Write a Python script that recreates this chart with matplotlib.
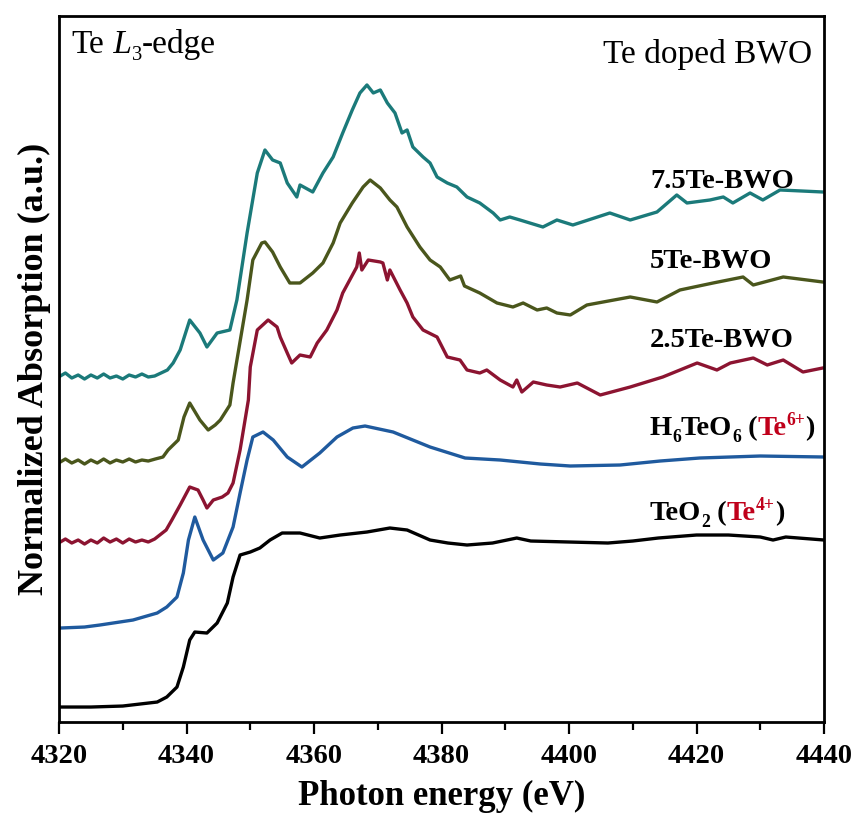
import matplotlib
matplotlib.use('Agg')
import matplotlib.pyplot as plt
import matplotlib.transforms as mtransforms
from matplotlib.ticker import MultipleLocator

plt.rcParams['font.family'] = 'Liberation Serif'

# Te L3-edge XANES, curves stacked with offsets (a.u.)
teo2_e = [4320.2, 4325, 4330, 4335.4, 4336.9, 4338.5, 4339.5, 4340.5, 4341.3, 4343.2,
          4344.8, 4346.4, 4347.3, 4348.4, 4350.0, 4351.5, 4353.1, 4355.0, 4357.8, 4360.9,
          4364.1, 4368.3, 4371.9, 4374.6, 4378.2, 4381, 4384.0, 4388, 4391.8, 4394,
          4400.0, 4406.1, 4410, 4414, 4420, 4425, 4430, 4432, 4434, 4440]
teo2_mu = [0.15, 0.15, 0.16, 0.20, 0.25, 0.35, 0.55, 0.82, 0.90, 0.89,
           0.99, 1.19, 1.45, 1.67, 1.70, 1.74, 1.82, 1.89, 1.89, 1.84,
           1.87, 1.90, 1.94, 1.92, 1.82, 1.79, 1.77, 1.79, 1.84, 1.81,
           1.80, 1.79, 1.81, 1.84, 1.87, 1.87, 1.85, 1.82, 1.85, 1.82]

h6teo6_e = [4320.2, 4324, 4326.4, 4331.6, 4335.4, 4336.9, 4338.5, 4339.5, 4340.3, 4341.3,
            4342.6, 4344.2, 4345.7, 4347.3, 4348.4, 4349.5, 4350.4, 4352.0, 4353.6, 4355.8,
            4358.1, 4360.9, 4363.6, 4366.1, 4368.0, 4372.4, 4378.2, 4383.7, 4389.2, 4395.5,
            4400.2, 4408.0, 4414.3, 4420.5, 4430.0, 4440]
h6teo6_mu = [0.94, 0.95, 0.97, 1.02, 1.09, 1.15, 1.25, 1.49, 1.82, 2.05,
             1.82, 1.62, 1.69, 1.95, 2.29, 2.62, 2.85, 2.90, 2.82, 2.65,
             2.55, 2.69, 2.85, 2.94, 2.96, 2.90, 2.75, 2.64, 2.62, 2.58,
             2.56, 2.57, 2.61, 2.64, 2.66, 2.65]

bwo25_e = [4320.2, 4321, 4322, 4323, 4324, 4325, 4326, 4327, 4328, 4329,
           4330, 4331, 4332, 4333, 4334, 4335, 4335.8, 4336.8, 4337.7, 4339.0,
           4340.5, 4341.8, 4342.6, 4343.2, 4344.2, 4345.6, 4346.5, 4347.3, 4348.4, 4349.7,
           4350.0, 4351.1, 4352.8, 4354.2, 4354.7, 4355.8, 4356.5, 4357.8, 4359.4, 4360.5,
           4362.0, 4363.6, 4364.5, 4365.6, 4366.7, 4367.1, 4367.5, 4368.5, 4370.4, 4370.8,
           4371.5, 4371.9, 4373.5, 4374.6, 4375.5, 4377.1, 4379.3, 4380.9, 4382.9, 4384.0,
           4386.0, 4387.1, 4389.2, 4391.2, 4391.8, 4392.6, 4394.4, 4396.5, 4398.6, 4401.3,
           4404.9, 4409.6, 4414.7, 4420.1, 4423.2, 4425.3, 4428.9, 4431.1, 4433.6, 4436.7,
           4439.8]
bwo25_mu = [1.80, 1.83, 1.79, 1.82, 1.78, 1.82, 1.79, 1.84, 1.80, 1.83,
            1.79, 1.83, 1.80, 1.82, 1.80, 1.83, 1.87, 1.92, 2.02, 2.17,
            2.35, 2.32, 2.22, 2.14, 2.22, 2.25, 2.29, 2.39, 2.72, 3.22,
            3.55, 3.92, 4.02, 3.95, 3.85, 3.69, 3.59, 3.67, 3.65, 3.79,
            3.92, 4.12, 4.29, 4.42, 4.55, 4.69, 4.52, 4.62, 4.60, 4.59,
            4.42, 4.52, 4.32, 4.19, 4.05, 3.92, 3.85, 3.65, 3.62, 3.52,
            3.49, 3.52, 3.42, 3.35, 3.42, 3.30, 3.40, 3.37, 3.35, 3.39,
            3.27, 3.35, 3.45, 3.59, 3.52, 3.59, 3.64, 3.57, 3.62, 3.50,
            3.54]

bwo5_e = [4320.2, 4321, 4322, 4323, 4324, 4325, 4326, 4327, 4328, 4329,
          4330, 4331, 4332, 4333, 4334, 4335.1, 4336.3, 4337.1, 4338.7, 4339.6,
          4340.5, 4342.1, 4343.4, 4344.5, 4345.3, 4346.8, 4347.3, 4349.5, 4350.4, 4351.8,
          4352.3, 4353.5, 4354.7, 4356.2, 4357.8, 4359.8, 4361.4, 4363.0, 4364.1, 4366.0,
          4367.7, 4368.8, 4370.4, 4371.9, 4373.0, 4374.6, 4376.6, 4378.2, 4379.8, 4381.3,
          4383.0, 4383.6, 4386.0, 4388.7, 4391.2, 4392.8, 4395.0, 4396.5, 4398.1, 4400.2,
          4402.8, 4409.6, 4413.8, 4417.4, 4422.6, 4427.3, 4428.9, 4433.6, 4439.8]
bwo5_mu = [2.60, 2.63, 2.59, 2.62, 2.58, 2.62, 2.59, 2.63, 2.59, 2.62,
           2.60, 2.63, 2.60, 2.62, 2.61, 2.63, 2.65, 2.72, 2.82, 3.05,
           3.19, 3.02, 2.92, 2.97, 3.02, 3.17, 3.39, 4.22, 4.62, 4.79,
           4.80, 4.70, 4.55, 4.39, 4.39, 4.49, 4.59, 4.79, 4.99, 5.19,
           5.35, 5.42, 5.34, 5.22, 5.15, 4.95, 4.75, 4.62, 4.55, 4.42,
           4.46, 4.36, 4.29, 4.19, 4.15, 4.19, 4.12, 4.14, 4.09, 4.07,
           4.17, 4.25, 4.20, 4.32, 4.39, 4.45, 4.37, 4.45, 4.40]

bwo75_e = [4320.2, 4321, 4322, 4323, 4324, 4325, 4326, 4327, 4328, 4329,
           4330, 4331, 4332, 4333, 4334, 4335, 4336, 4337, 4337.9, 4339.0,
           4340.5, 4342.1, 4343.2, 4344.8, 4346.8, 4347.9, 4349.5, 4351.1, 4352.3, 4353.5,
           4354.7, 4355.8, 4357.3, 4357.8, 4359.8, 4361.4, 4363.0, 4364.5, 4366.0, 4367.2,
           4368.3, 4369.3, 4370.4, 4371.5, 4372.7, 4373.8, 4374.6, 4375.5, 4377.1, 4378.2,
           4379.3, 4380.9, 4382.4, 4384.0, 4386.0, 4388.1, 4389.2, 4390.7, 4392.3, 4395.9,
           4398.1, 4400.6, 4406.4, 4409.6, 4413.8, 4416.9, 4418.5, 4422.1, 4424.2, 4425.7,
           4428.4, 4430.4, 4433.1, 4439.8]
bwo75_mu = [3.46, 3.49, 3.44, 3.47, 3.43, 3.47, 3.44, 3.48, 3.44, 3.46,
            3.43, 3.47, 3.45, 3.48, 3.45, 3.46, 3.49, 3.52, 3.59, 3.72,
            4.02, 3.89, 3.75, 3.89, 3.92, 4.22, 4.89, 5.49, 5.72, 5.62,
            5.59, 5.39, 5.25, 5.37, 5.30, 5.49, 5.65, 5.89, 6.12, 6.29,
            6.37, 6.29, 6.32, 6.19, 6.09, 5.89, 5.92, 5.75, 5.65, 5.59,
            5.45, 5.39, 5.35, 5.25, 5.19, 5.09, 5.02, 5.05, 5.02, 4.95,
            5.02, 4.97, 5.09, 5.02, 5.10, 5.27, 5.19, 5.22, 5.25, 5.19,
            5.29, 5.22, 5.32, 5.30]

fig = plt.figure(figsize=(8.58, 8.19), dpi=100)
ax = fig.add_axes([0.0688, 0.1184, 0.8916, 0.8621])

lw = 2.4
ax.plot(teo2_e, teo2_mu, color='black', lw=lw)
ax.plot(h6teo6_e, h6teo6_mu, color='#1f5a9e', lw=lw)
ax.plot(bwo25_e, bwo25_mu, color='#8c1431', lw=lw)
ax.plot(bwo5_e, bwo5_mu, color='#4a561c', lw=lw)
ax.plot(bwo75_e, bwo75_mu, color='#1b7a7a', lw=lw)

ax.set_xlim(4320, 4440)
ax.set_ylim(0, 7.06)
ax.xaxis.set_major_locator(MultipleLocator(20))
ax.xaxis.set_minor_locator(MultipleLocator(10))
ax.set_yticks([])
ax.tick_params(axis='x', which='major', direction='out', length=8.5, width=1.6,
               labelsize=20.5, pad=7, top=False)
ax.tick_params(axis='x', which='minor', direction='out', length=5.5, width=1.6, top=False)
for lab in ax.get_xticklabels():
    lab.set_fontweight('bold')
for sp in ax.spines.values():
    sp.set_linewidth(2.0)

ax.set_xlabel('Photon energy (eV)', fontsize=25, fontweight='bold', labelpad=8)
ax.set_ylabel('Normalized Absorption (a.u.)', fontsize=26, fontweight='bold', labelpad=6)


def chain(x, y, parts, fs, weight='normal'):
    # parts: (text, colour, size factor, vertical shift in points, style)
    rend = fig.canvas.get_renderer()
    for s, c, k, dy, style in parts:
        tr = mtransforms.offset_copy(ax.transData, fig=fig, x=0, y=dy, units='points')
        t = ax.text(x, y, s, color=c, fontsize=fs * k, fontweight=weight, fontstyle=style,
                    va='baseline', ha='left', transform=tr)
        bb = t.get_window_extent(rend)
        x = ax.transData.inverted().transform((bb.x1, bb.y0))[0]


chain(4322.0, 6.69, [('Te', 'black', 1, 0, 'normal'),
                     (' L', 'black', 1, 0, 'italic'),
                     ('3', 'black', 0.62, -5, 'normal'),
                     ('-edge', 'black', 1, 0, 'normal')], 24)
ax.text(4438.1, 6.59, 'Te doped BWO', fontsize=24, va='baseline', ha='right')

fs = 20.5
ax.text(4412.7, 5.34, '7.5Te-BWO', fontsize=fs, fontweight='bold', va='baseline')
ax.text(4412.7, 4.54, '5Te-BWO', fontsize=fs, fontweight='bold', va='baseline')
ax.text(4412.7, 3.75, '2.5Te-BWO', fontsize=fs, fontweight='bold', va='baseline')

red = '#c0001a'
chain(4412.7, 2.87, [('H', 'black', 1, 0, 'normal'),
                     ('6', 'black', 0.62, -5, 'normal'),
                     ('TeO', 'black', 1, 0, 'normal'),
                     ('6', 'black', 0.62, -5, 'normal'),
                     (' (', 'black', 1, 0, 'normal'),
                     ('Te', red, 1, 0, 'normal'),
                     ('6+', red, 0.62, 7, 'normal'),
                     (')', 'black', 1, 0, 'normal')], fs, 'bold')
chain(4412.7, 2.02, [('TeO', 'black', 1, 0, 'normal'),
                     ('2', 'black', 0.62, -5, 'normal'),
                     (' (', 'black', 1, 0, 'normal'),
                     ('Te', red, 1, 0, 'normal'),
                     ('4+', red, 0.62, 7, 'normal'),
                     (')', 'black', 1, 0, 'normal')], fs, 'bold')

fig.savefig('out.png', dpi=100)
